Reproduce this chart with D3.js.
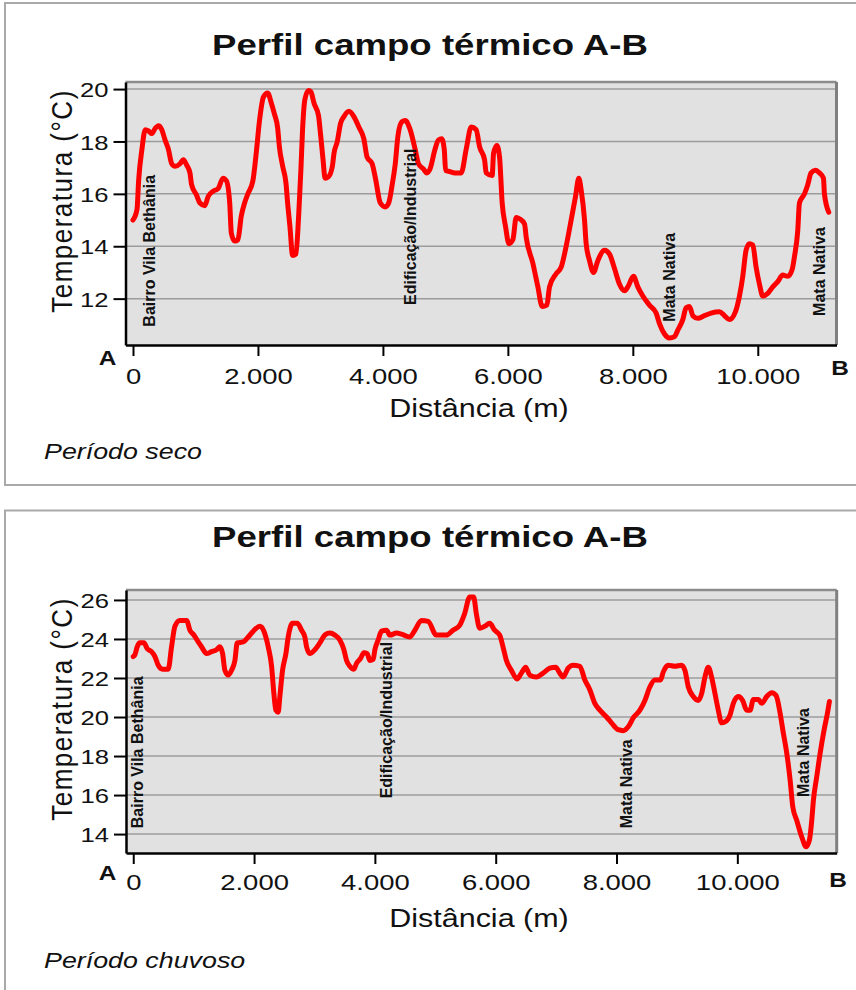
<!DOCTYPE html>
<html>
<head>
<meta charset="utf-8">
<script src="https://cdn.jsdelivr.net/npm/d3@7"></script>
<style>
  body { margin: 0; background: #fff; }
  svg { display: block; }
  text { font-family: 'Liberation Sans', Arial, sans-serif; fill: #111; }
</style>
</head>
<body>
<div id="app"></div>
<script>
'use strict'

// Período seco
const distSeco = [0, 64, 90, 143, 196, 250, 302, 355, 408, 461, 514, 567, 620, 673, 753, 806, 859, 912, 938, 1018,
  1071, 1150, 1203, 1283, 1362, 1442, 1495, 1548, 1574, 1627, 1680, 1733, 1786, 1839, 1919, 1972, 2025, 2088, 2157, 2210,
  2263, 2316, 2343, 2396, 2449, 2475, 2512, 2555, 2608, 2650, 2687, 2714, 2751, 2809, 2846, 2899, 2968, 3005, 3042, 3074,
  3127, 3191, 3217, 3270, 3323, 3376, 3456, 3535, 3615, 3695, 3747, 3827, 3880, 3959, 4039, 4092, 4145, 4198, 4240, 4304,
  4357, 4436, 4516, 4569, 4648, 4701, 4754, 4834, 4887, 4940, 4982, 5003, 5072, 5152, 5253, 5333, 5413, 5493, 5547, 5627,
  5653, 5749, 5771, 5824, 5867, 5909, 5963, 6016, 6080, 6133, 6187, 6267, 6293, 6400, 6480, 6549, 6624, 6667, 6773, 6853,
  6933, 7013, 7083, 7136, 7173, 7227, 7253, 7307, 7371, 7440, 7547, 7627, 7707, 7787, 7867, 7920, 8011, 8080, 8160, 8267,
  8373, 8427, 8507, 8587, 8667, 8720, 8800, 8853, 8907, 8960, 9040, 9147, 9253, 9387, 9467, 9547, 9643, 9707, 9760, 9813,
  9867, 9920, 9973, 10027, 10080, 10160, 10240, 10320, 10400, 10480, 10549, 10587, 10640, 10667, 10747, 10800, 10853, 10923, 10987, 11051,
  11067, 11136]
const tempSeco = [15.0, 15.4, 16.5, 17.7, 18.45, 18.4, 18.3, 18.5, 18.6, 18.45, 18.05, 17.7, 17.15, 17.05, 17.15, 17.3, 17.1, 16.8, 16.35, 15.95,
  15.65, 15.55, 15.9, 16.1, 16.2, 16.6, 16.5, 15.65, 14.5, 14.2, 14.25, 15.15, 15.65, 16.0, 16.5, 17.55, 18.8, 19.7, 19.85, 19.5,
  19.05, 18.5, 17.8, 17.05, 16.4, 15.65, 14.75, 13.65, 13.7, 15.1, 16.9, 18.45, 19.6, 19.95, 19.9, 19.45, 19.0, 18.2, 17.3, 16.6,
  16.65, 17.05, 17.55, 18.0, 18.7, 18.95, 19.15, 18.95, 18.55, 18.1, 17.4, 17.15, 16.6, 15.65, 15.5, 15.65, 16.3, 17.15, 18.2, 18.75,
  18.8, 18.45, 17.7, 17.15, 16.95, 16.8, 16.95, 17.7, 18.05, 18.1, 17.7, 16.9, 16.85, 16.8, 16.8, 17.7, 18.55, 18.45, 17.8, 17.3,
  16.8, 16.7, 17.55, 17.85, 17.4, 15.65, 14.75, 14.1, 14.25, 15.1, 15.05, 14.85, 14.35, 13.35, 12.45, 11.7, 11.75, 12.45, 12.95, 13.2,
  14.0, 15.0, 15.9, 16.6, 16.15, 15.0, 14.1, 13.45, 13.0, 13.45, 13.85, 13.7, 13.15, 12.55, 12.3, 12.45, 12.85, 12.45, 12.1, 11.75,
  11.45, 11.05, 10.65, 10.5, 10.55, 10.8, 11.2, 11.65, 11.7, 11.35, 11.25, 11.35, 11.45, 11.5, 11.35, 11.2, 11.5, 12.1, 12.85, 13.85,
  14.1, 14.05, 13.2, 12.55, 12.1, 12.2, 12.45, 12.65, 12.9, 12.85, 13.1, 13.6, 14.6, 15.65, 16.0, 16.35, 16.8, 16.9, 16.8, 16.6,
  16.0, 15.3]

// Período chuvoso
const distChuvoso = [0, 28, 66, 110, 177, 232, 303, 359, 414, 486, 579, 634, 690, 772, 883, 938, 1004, 1076, 1131, 1214,
  1296, 1379, 1434, 1479, 1517, 1572, 1628, 1683, 1721, 1821, 1903, 1986, 2096, 2163, 2234, 2290, 2328, 2361, 2400, 2427,
  2472, 2527, 2565, 2637, 2714, 2786, 2841, 2869, 2924, 3007, 3089, 3172, 3255, 3338, 3420, 3487, 3531, 3586, 3652, 3696,
  3763, 3818, 3873, 3917, 3972, 4000, 4055, 4110, 4193, 4248, 4358, 4441, 4579, 4662, 4772, 4882, 5017, 5182, 5293, 5403,
  5486, 5569, 5635, 5679, 5735, 5818, 5900, 5983, 6066, 6121, 6177, 6259, 6354, 6425, 6497, 6563, 6674, 6784, 6895, 6994,
  7061, 7116, 7199, 7282, 7393, 7476, 7558, 7641, 7724, 7835, 7917, 8028, 8111, 8194, 8276, 8387, 8470, 8553, 8635, 8729,
  8773, 8856, 8967, 9077, 9132, 9188, 9271, 9353, 9409, 9464, 9519, 9574, 9630, 9685, 9740, 9795, 9879, 9934, 10017, 10088,
  10155, 10211, 10266, 10349, 10404, 10487, 10570, 10642, 10708, 10763, 10818, 10873, 10918, 10984, 11067, 11139, 11194, 11232, 11260, 11315,
  11371, 11437, 11492, 11525]
const tempChuvoso = [23.1, 23.2, 23.6, 23.8, 23.8, 23.5, 23.35, 23.1, 22.65, 22.45, 22.45, 23.6, 24.65, 24.95, 24.95, 24.45, 24.2, 23.85, 23.6, 23.25,
  23.35, 23.45, 23.6, 23.25, 22.4, 22.15, 22.4, 22.9, 23.8, 23.85, 24.1, 24.4, 24.65, 24.4, 23.6, 22.6, 21.2, 20.35, 20.25, 21.05,
  22.4, 23.25, 24.1, 24.8, 24.8, 24.45, 24.1, 23.6, 23.25, 23.45, 23.8, 24.2, 24.3, 24.2, 23.95, 23.45, 22.9, 22.6, 22.45, 22.75,
  23.0, 23.3, 23.25, 22.9, 22.95, 23.45, 23.95, 24.4, 24.45, 24.2, 24.3, 24.25, 24.1, 24.45, 24.95, 24.9, 24.2, 24.2, 24.45, 24.7,
  25.3, 26.15, 26.15, 25.3, 24.55, 24.65, 24.8, 24.45, 24.2, 23.6, 22.9, 22.4, 21.95, 22.25, 22.55, 22.15, 22.05, 22.25, 22.5, 22.55,
  22.25, 22.05, 22.5, 22.65, 22.6, 21.9, 21.4, 20.7, 20.35, 20.0, 19.7, 19.35, 19.3, 19.5, 19.95, 20.35, 20.85, 21.55, 21.9, 21.9,
  22.3, 22.65, 22.6, 22.65, 22.4, 21.55, 21.05, 20.85, 21.2, 22.05, 22.55, 22.05, 21.2, 20.35, 19.7, 19.75, 20.1, 20.7, 21.05, 20.85,
  20.35, 20.35, 20.9, 20.9, 20.7, 21.05, 21.25, 21.1, 20.2, 19.15, 18.15, 16.8, 15.4, 14.7, 13.85, 13.35, 13.7, 14.7, 15.75, 16.95,
  18.15, 19.35, 20.2, 20.8]

// Eixos
const xTickValues = [0, 2000, 4000, 6000, 8000, 10000]
const yTicksSeco = [12, 14, 16, 18, 20]
const yTicksChuvoso = [14, 16, 18, 20, 22, 24, 26]

// Rótulos ao longo do perfil
const labelNames = ['Bairro Vila Bethânia', 'Edificação/Industrial', 'Mata Nativa', 'Mata Nativa']
const labelDistSeco = [266, 4437, 8586, 10986]
const labelTempSeco = [10.93, 11.76, 11.12, 11.34]
const labelDistChuvoso = [66, 4195, 8169, 11093]
const labelTempChuvoso = [14.3, 15.83, 14.3, 15.9]

const setWidth = 856
const setHeight = 990
const stretch = 1.22 // o texto do original aparece esticado na horizontal

const fmt = d3.formatLocale({ decimal: ',', thousands: '.', grouping: [3], currency: ['', ''] }).format(',')

const charts = [
  {
    period: 'Período seco', dist: distSeco, temp: tempSeco, yTicks: yTicksSeco,
    labelDist: labelDistSeco, labelTemp: labelTempSeco,
    box: { x: 5, y: 3, h: 482 },
    plot: { left: 125.5, top: 82, right: 836.5, bottom: 345 },
    xDomain: [-120, 11260], yDomain: [10.23, 20.27],
    titleY: 55, yTitleY: 201, tickY: 384, aY: 365, bX: 840, bY: 375, distY: 417, periodY: 459
  },
  {
    period: 'Período chuvoso', dist: distChuvoso, temp: tempChuvoso, yTicks: yTicksChuvoso,
    labelDist: labelDistChuvoso, labelTemp: labelTempChuvoso,
    box: { x: 5, y: 510.5, h: 500 },
    plot: { left: 126, top: 590, right: 836.7, bottom: 853 },
    xDomain: [-120, 11645], yDomain: [13.03, 26.51],
    titleY: 547, yTitleY: 709, tickY: 890, aY: 880, bX: 838, bY: 887, distY: 927, periodY: 968
  }
]

const svg = d3.select('#app')
  .append('svg')
  .attr('width', setWidth)
  .attr('height', setHeight)

const stretchedText = (parent, x, y, str) => parent.append('g')
  .attr('transform', `translate(${x},${y}) scale(${stretch},1)`)
  .append('text')
  .text(str)

const drawChart = cfg => {
  const p = cfg.plot
  const w = p.right - p.left
  const h = p.bottom - p.top

  // moldura externa
  svg.append('rect')
    .attr('x', cfg.box.x)
    .attr('y', cfg.box.y)
    .attr('width', 900)
    .attr('height', cfg.box.h)
    .attr('fill', 'none')
    .attr('stroke', '#a9a9a9')
    .attr('stroke-width', 2)

  stretchedText(svg, 430, cfg.titleY, 'Perfil campo térmico A-B')
    .attr('text-anchor', 'middle')
    .attr('font-size', 30)
    .attr('font-weight', 'bold')

  const scaleX = d3.scaleLinear().domain(cfg.xDomain).range([0, w])
  const scaleY = d3.scaleLinear().domain(cfg.yDomain).range([h, 0])

  const g = svg.append('g').attr('transform', `translate(${p.left},${p.top})`)

  g.append('rect')
    .attr('width', w)
    .attr('height', h)
    .attr('fill', '#e1e1e1')

  g.selectAll('.grid')
    .data(cfg.yTicks)
    .enter()
    .append('line')
    .attr('x1', 0)
    .attr('x2', w)
    .attr('y1', d => scaleY(d))
    .attr('y2', d => scaleY(d))
    .attr('stroke', '#9c9c9c')
    .attr('stroke-width', 1.5)

  // bordas superior e direita
  g.append('line').attr('x1', 0).attr('x2', w).attr('y1', 0).attr('y2', 0)
    .attr('stroke', '#8c8c8c').attr('stroke-width', 2.5)
  g.append('line').attr('x1', w).attr('x2', w).attr('y1', 0).attr('y2', h)
    .attr('stroke', '#808080').attr('stroke-width', 3)

  const points = cfg.dist.map((d, i) => [d, cfg.temp[i]])

  g.append('path')
    .datum(points)
    .attr('fill', 'none')
    .attr('stroke', '#ff0000')
    .attr('stroke-width', 5)
    .attr('stroke-linejoin', 'round')
    .attr('stroke-linecap', 'round')
    .attr('d', d3.line().x(d => scaleX(d[0])).y(d => scaleY(d[1])).curve(d3.curveMonotoneX))

  // rótulos verticais
  labelNames.forEach((name, i) => {
    g.append('text')
      .attr('transform', `translate(${scaleX(cfg.labelDist[i])},${scaleY(cfg.labelTemp[i])}) rotate(-90)`)
      .attr('dy', '0.35em')
      .attr('font-size', 16)
      .attr('font-weight', 'bold')
      .text(name)
  })

  // eixo Y
  const axisY = g.append('g')
    .call(d3.axisLeft(scaleY).tickValues(cfg.yTicks).tickSize(12).tickSizeOuter(0).tickFormat(d3.format('d')))
  axisY.select('.domain').attr('stroke', '#000').attr('stroke-width', 2.5)
  axisY.selectAll('.tick line').attr('stroke', '#000').attr('stroke-width', 2)
  axisY.selectAll('.tick text')
    .attr('x', -17 / stretch)
    .attr('transform', `scale(${stretch},1)`)
    .attr('dy', '0.36em')
    .attr('font-size', 21)
    .attr('font-family', null)
    .attr('fill', '#111')

  // eixo X
  const axisX = g.append('g')
    .attr('transform', `translate(0,${h})`)
    .call(d3.axisBottom(scaleX).tickValues(xTickValues).tickSize(11).tickSizeOuter(0).tickFormat(fmt))
  axisX.select('.domain').attr('stroke', '#000').attr('stroke-width', 2.5)
  axisX.selectAll('.tick line').attr('stroke', '#000').attr('stroke-width', 2)
  axisX.selectAll('.tick text')
    .attr('y', cfg.tickY - p.bottom)
    .attr('dy', null)
    .attr('transform', `scale(${stretch},1)`)
    .attr('font-size', 22.5)
    .attr('font-family', null)
    .attr('fill', '#111')

  // títulos dos eixos
  svg.append('text')
    .attr('transform', `translate(62,${cfg.yTitleY}) scale(1.12,1) rotate(-90)`)
    .attr('text-anchor', 'middle')
    .attr('dy', '0.35em')
    .attr('font-size', 26)
    .attr('letter-spacing', 1.5)
    .text('Temperatura (°C)')

  stretchedText(svg, 479, cfg.distY, 'Distância (m)')
    .attr('text-anchor', 'middle')
    .attr('font-size', 25)

  stretchedText(svg, 107.5, cfg.aY, 'A')
    .attr('text-anchor', 'middle')
    .attr('font-size', 20)
    .attr('font-weight', 'bold')

  stretchedText(svg, cfg.bX, cfg.bY, 'B')
    .attr('text-anchor', 'middle')
    .attr('font-size', 20)
    .attr('font-weight', 'bold')

  stretchedText(svg, 44, cfg.periodY, cfg.period)
    .attr('font-size', 22)
    .attr('font-style', 'italic')
}

charts.forEach(drawChart)
</script>
</body>
</html>
